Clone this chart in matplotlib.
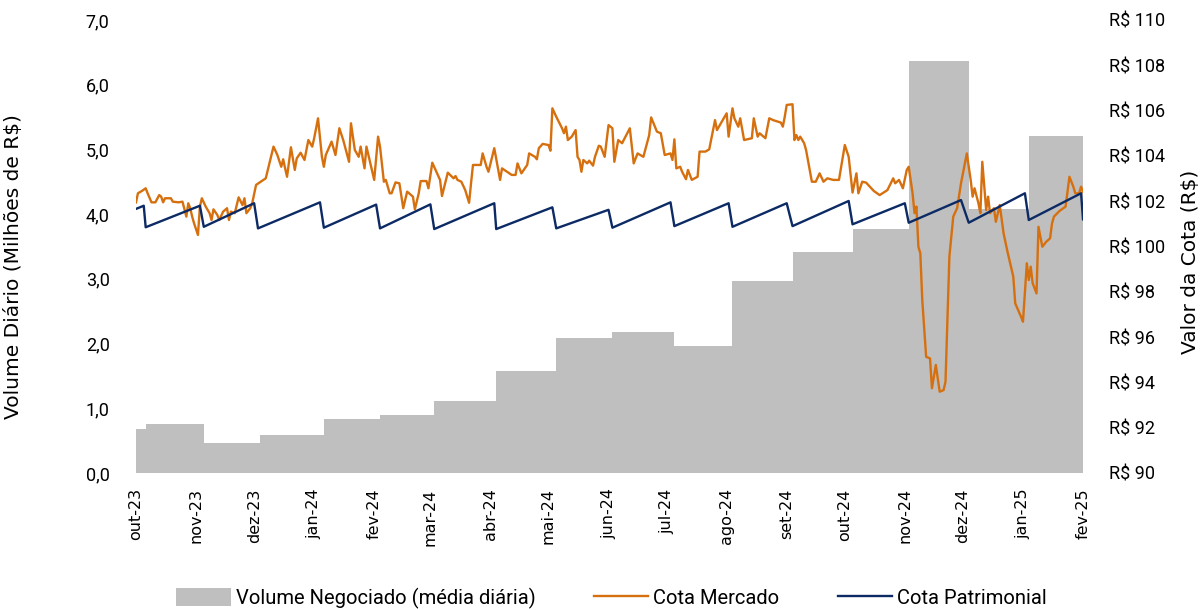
import matplotlib
matplotlib.use('Agg')
import matplotlib.pyplot as plt
from matplotlib.ticker import FuncFormatter, MultipleLocator
import pandas as pd
import numpy as np

# dias corridos desde 01/10/2023
inicio = pd.Timestamp('2023-10-01')

# Volume negociado (media diaria, R$ milhoes) - inicio de cada periodo
vol_dias = [0, 5, 35, 64, 97, 126, 154, 186, 217, 246, 278, 308, 339, 370, 399, 430, 461]
vol_valor = [0.68, 0.76, 0.47, 0.59, 0.83, 0.89, 1.11, 1.58, 2.09, 2.18, 1.97, 2.97, 3.42, 3.77, 6.36, 4.08, 5.21]
vol_fim = 489

# Cota de mercado (R$)
merc_dias = [0, 1, 3, 5, 6, 8, 10, 12, 13, 14, 15, 18, 19, 22, 24, 26, 27, 28, 29, 30,
             32, 33, 34, 36, 38, 39, 40, 42, 43, 45, 47, 48, 49, 51, 53, 55, 56, 57, 59, 60,
             62, 67, 71, 73, 75, 76, 77, 78, 80, 82, 83, 85, 87, 89, 91, 92, 94, 96, 97, 98,
             101, 103, 105, 107, 110, 111, 113, 115, 116, 118, 119, 122, 123, 125, 126, 128, 129, 131, 132, 134,
             136, 138, 140, 141, 143, 144, 146, 147, 150, 151, 153, 157, 158, 161, 164, 165, 166, 168, 170, 172,
             173, 174, 178, 179, 181, 182, 185, 188, 189, 194, 196, 197, 199, 202, 203, 206, 207, 208, 210, 213,
             214, 215, 217, 220, 221, 222, 223, 225, 227, 228, 229, 230, 231, 233, 234, 236, 237, 239, 240, 242,
             244, 246, 247, 249, 251, 255, 257, 259, 262, 265, 266, 269, 271, 273, 276, 277, 278, 279, 281, 282,
             284, 285, 287, 290, 291, 294, 296, 299, 300, 302, 305, 306, 308, 309, 311, 312, 314, 318, 319, 321,
             322, 325, 327, 329, 333, 334, 335, 336, 339, 340, 341, 342, 343, 345, 346, 349, 351, 353, 355, 357,
             360, 363, 366, 368, 370, 372, 373, 375, 377, 381, 384, 388, 391, 392, 394, 396, 398, 399, 401, 402,
             403, 404, 405, 406, 408, 410, 411, 413, 415, 417, 418, 420, 422, 424, 426, 429, 431, 432, 433, 435,
             436, 437, 439, 440, 441, 443, 444, 446, 448, 450, 453, 454, 457, 458, 460, 461, 462, 463, 465, 466,
             468, 470, 472, 473, 474, 477, 480, 482, 484, 485, 487, 488, 489]
cota_mercado = [101.95, 102.35, 102.45, 102.57, 102.35, 101.95, 101.95, 102.27, 102.20, 101.95, 102.13, 102.13, 101.98, 101.95, 101.98, 101.32, 101.91, 101.69, 101.32, 101.02,
                100.51, 101.76, 102.13, 101.76, 101.47, 101.17, 101.64, 101.39, 101.17, 101.54, 101.69, 101.17, 101.54, 101.47, 102.17, 101.83, 102.13, 101.47, 101.69, 101.91,
                102.72, 103.01, 104.41, 104.04, 103.52, 103.85, 103.45, 103.08, 104.38, 103.38, 103.89, 104.14, 103.82, 104.70, 104.41, 104.78, 105.66, 103.96, 103.52, 104.04,
                104.63, 104.04, 105.22, 104.70, 103.74, 105.44, 104.26, 103.96, 104.41, 103.45, 104.41, 103.30, 102.94, 104.85, 104.41, 102.86, 102.94, 102.35, 102.35, 102.83,
                102.79, 101.69, 102.42, 102.35, 102.20, 101.64, 102.35, 102.89, 102.89, 102.57, 103.70, 102.94, 102.23, 103.26, 103.01, 103.11, 102.94, 102.86, 102.49, 101.93,
                102.79, 103.60, 103.60, 104.11, 103.52, 103.30, 104.34, 102.94, 103.45, 103.16, 103.16, 103.67, 103.23, 103.60, 104.11, 103.96, 103.85, 104.34, 104.53, 104.48,
                104.23, 106.10, 105.73, 105.22, 105.00, 105.29, 104.70, 104.85, 105.14, 103.96, 103.82, 103.30, 103.82, 103.67, 103.79, 103.57, 103.96, 104.45, 104.41, 103.96,
                105.36, 105.22, 103.74, 104.70, 104.56, 105.22, 103.67, 104.11, 103.96, 104.92, 105.70, 105.07, 105.00, 104.04, 104.11, 103.82, 104.73, 103.45, 103.52, 103.30,
                102.97, 103.38, 102.94, 103.08, 104.19, 104.19, 104.29, 105.58, 105.14, 105.44, 105.88, 104.85, 106.10, 105.66, 105.29, 105.66, 104.70, 104.78, 105.66, 104.85,
                105.00, 104.78, 105.66, 105.58, 105.47, 105.29, 105.73, 106.25, 106.28, 104.70, 104.92, 104.70, 104.85, 104.56, 104.26, 102.86, 102.86, 103.23, 102.86, 103.01,
                102.94, 102.94, 104.48, 103.96, 102.38, 103.23, 102.35, 102.86, 102.82, 102.45, 102.27, 102.49, 103.01, 102.79, 102.94, 102.57, 103.38, 103.52, 102.35, 101.47,
                101.76, 99.99, 99.70, 97.64, 95.13, 95.06, 93.74, 94.77, 93.59, 93.66, 94.03, 99.55, 101.32, 101.69, 102.79, 104.11, 102.94, 102.20, 102.57, 101.91,
                101.47, 103.74, 101.61, 102.20, 101.47, 101.69, 101.09, 101.83, 100.58, 99.77, 98.67, 97.49, 96.90, 96.68, 99.26, 98.52, 99.11, 98.38, 97.93, 100.87,
                99.99, 100.21, 100.36, 101.02, 101.32, 101.58, 101.76, 103.08, 102.64, 102.35, 102.35, 102.64, 102.42]

# Cota patrimonial (R$)
patr_dias = [0, 4, 5, 33, 35, 61, 63, 95, 97, 124, 126, 152, 154, 185, 186, 215, 217, 244,
             246, 276, 278, 306, 308, 336, 339, 368, 370, 397, 399, 426, 430, 459, 461, 488, 489]
cota_patrimonial = [101.66, 101.80, 100.85, 101.80, 100.87, 101.91, 100.80, 101.95, 100.83, 101.85, 100.80, 101.86,
                    100.77, 101.91, 100.77, 101.73, 100.80, 101.62, 100.83, 101.95, 100.90, 101.91, 100.87, 101.91,
                    100.90, 102.01, 100.98, 101.91, 101.05, 102.05, 101.05, 102.35, 101.17, 102.35, 101.20]

meses = ['out-23', 'nov-23', 'dez-23', 'jan-24', 'fev-24', 'mar-24', 'abr-24', 'mai-24', 'jun-24',
         'jul-24', 'ago-24', 'set-24', 'out-24', 'nov-24', 'dez-24', 'jan-25', 'fev-25']


def para_datas(dias):
    return inicio + pd.to_timedelta(dias, unit='D')


plt.rcParams['font.family'] = 'DejaVu Sans'
estreita = 'Roboto'

fig = plt.figure(figsize=(12.04, 6.10), dpi=100)
ax = fig.add_axes([136 / 1204, 1 - 473 / 610, (1083 - 136) / 1204, (473 - 20) / 610])
ax2 = ax.twinx()

vx = para_datas(vol_dias + [vol_fim])
vy = vol_valor + [vol_valor[-1]]
ax.fill_between(vx, vy, step='post', color='#BFBFBF', lw=0,
                label='Volume Negociado (média diária)')

ax2.plot(para_datas(merc_dias), cota_mercado, color='#D6700F', lw=1.7, label='Cota Mercado')
ax2.plot(para_datas(patr_dias), cota_patrimonial, color='#0C2A64', lw=1.7, label='Cota Patrimonial')

ax.set_xlim(inicio, para_datas([vol_fim])[0])
ax.set_ylim(0, 7)
ax2.set_ylim(90, 110)
ax.yaxis.set_major_locator(MultipleLocator(1))
ax2.yaxis.set_major_locator(MultipleLocator(2))
ax.yaxis.set_major_formatter(FuncFormatter(lambda v, p: f'{v:.1f}'.replace('.', ',')))
ax2.yaxis.set_major_formatter(FuncFormatter(lambda v, p: f'R$ {v:.0f}'))

ax.set_xticks(pd.date_range(inicio, periods=len(meses), freq='MS'))
ax.set_xticklabels(meses, rotation=90, fontsize=11.5)

for a in (ax, ax2):
    for s in a.spines.values():
        s.set_visible(False)
    a.tick_params(length=0)
ax.tick_params(axis='y', pad=19)
ax.tick_params(axis='x', pad=11)
ax2.tick_params(axis='y', pad=19)
for t in ax.get_yticklabels() + ax2.get_yticklabels():
    t.set_family(estreita)
    t.set_fontsize(13)

ax.set_ylabel('Volume Diário (Milhões de R$)', fontsize=14.5)
ax2.set_ylabel('Valor da Cota (R$)', fontsize=14.5)
ax.yaxis.set_label_coords(-0.119, 0.455)
ax2.yaxis.set_label_coords(1.103, 0.465)

h1, l1 = ax.get_legend_handles_labels()
h2, l2 = ax2.get_legend_handles_labels()
fig.legend(h1 + h2, l1 + l2, loc='lower center', bbox_to_anchor=(0.508, -0.028), ncol=3,
           frameon=False, prop={'family': estreita, 'size': 14.5}, handlelength=2.7,
           handleheight=1.0, handletextpad=0.25, columnspacing=2.9)

fig.savefig('out.png', dpi=100)
